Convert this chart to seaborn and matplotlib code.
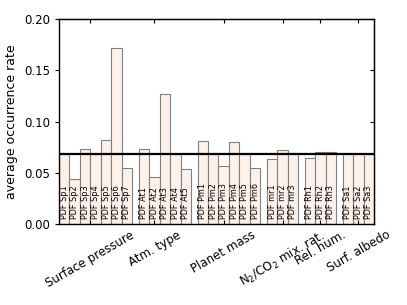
import numpy as np
import pandas as pd
import seaborn as sns
import matplotlib
matplotlib.use("Agg")
import matplotlib.pyplot as plt

# 各参数组名称（x 轴标签）
group_names = ['Surface pressure', 'Atm. type', 'Planet mass',
               'N$_2$/CO$_2$ mix. rat.', 'Rel. hum.', 'Surf. albedo']

# 每根柱子的标签
sp_labels = ['PDF Sp1', 'PDF Sp2', 'PDF Sp3', 'PDF Sp4', 'PDF Sp5', 'PDF Sp6', 'PDF Sp7']
at_labels = ['PDF At1', 'PDF At2', 'PDF At3', 'PDF At4', 'PDF At5']
pm_labels = ['PDF Pm1', 'PDF Pm2', 'PDF Pm3', 'PDF Pm4', 'PDF Pm5', 'PDF Pm6']
mr_labels = ['PDF mr1', 'PDF mr2', 'PDF mr3']
rh_labels = ['PDF Rh1', 'PDF Rh2', 'PDF Rh3']
sa_labels = ['PDF Sa1', 'PDF Sa2', 'PDF Sa3']

# 平均出现率
sp_values = [0.068, 0.0445, 0.0731, 0.068, 0.0825, 0.172, 0.0549]
at_values = [0.0734, 0.0465, 0.1274, 0.068, 0.0543]
pm_values = [0.0812, 0.068, 0.0565, 0.0802, 0.068, 0.0553]
mr_values = [0.0632, 0.0721, 0.0699]
rh_values = [0.065, 0.0702, 0.0708]
sa_values = [0.068, 0.068, 0.068]

# 参考线（总体平均值）
mean_rate = 0.0682

group_labels = [sp_labels, at_labels, pm_labels, mr_labels, rh_labels, sa_labels]
group_values = [sp_values, at_values, pm_values, mr_values, rh_values, sa_values]

# 布局：柱宽 1，组间留空
gap = 0.63
tick_offsets = [3.0, 1.5, 2.5, 1.5, 1.5, 1.5]

rows = []
tick_pos = []
start = 0.0
for labels, values, off in zip(group_labels, group_values, tick_offsets):
    tick_pos.append(start + off)
    for j, (lab, val) in enumerate(zip(labels, values)):
        rows.append({'x': start + j + 0.5, 'rate': val, 'label': lab})
    start += len(labels) + gap
x_max = start - gap
data = pd.DataFrame(rows)

fig = plt.figure(figsize=(4.07, 3.05), dpi=100)
ax = fig.add_axes([0.145, 0.265, 0.774, 0.672])

sns.barplot(data=data, x='x', y='rate', native_scale=True, width=1.0,
            color='#fdf1ea', saturation=1, edgecolor='#808080',
            linewidth=0.8, errorbar=None, ax=ax)

# 柱内竖排文字
for _, r in data.iterrows():
    ax.text(r['x'], 0.0055, r['label'], rotation=90, ha='center', va='bottom',
            fontsize=5.9)

ax.axhline(mean_rate, color='black', lw=1.6)

ax.set_xlim(0, x_max)
ax.set_ylim(0, 0.20)
ax.set_yticks([0.0, 0.05, 0.10, 0.15, 0.20])
ax.set_yticklabels(['0.00', '0.05', '0.10', '0.15', '0.20'])
ax.set_xticks(tick_pos)
ax.set_xticklabels(group_names, rotation=30, ha='center')
ax.set_xlabel('')
ax.set_ylabel('average occurrence rate', fontsize=9)
ax.tick_params(axis='x', direction='in', length=3, labelsize=8.5, pad=3)
ax.tick_params(axis='y', direction='out', length=3, labelsize=8.5)

# 上方和右侧的内向刻度
top = ax.secondary_xaxis('top')
top.set_xticks(tick_pos)
top.tick_params(direction='in', length=3, labelsize=0)
top.set_xticklabels([])
right = ax.secondary_yaxis('right')
right.set_yticks([0.0, 0.05, 0.10, 0.15, 0.20])
right.tick_params(direction='in', length=3)
right.set_yticklabels([])

for s in ax.spines.values():
    s.set_linewidth(1.0)

fig.savefig('out.png', dpi=100)
